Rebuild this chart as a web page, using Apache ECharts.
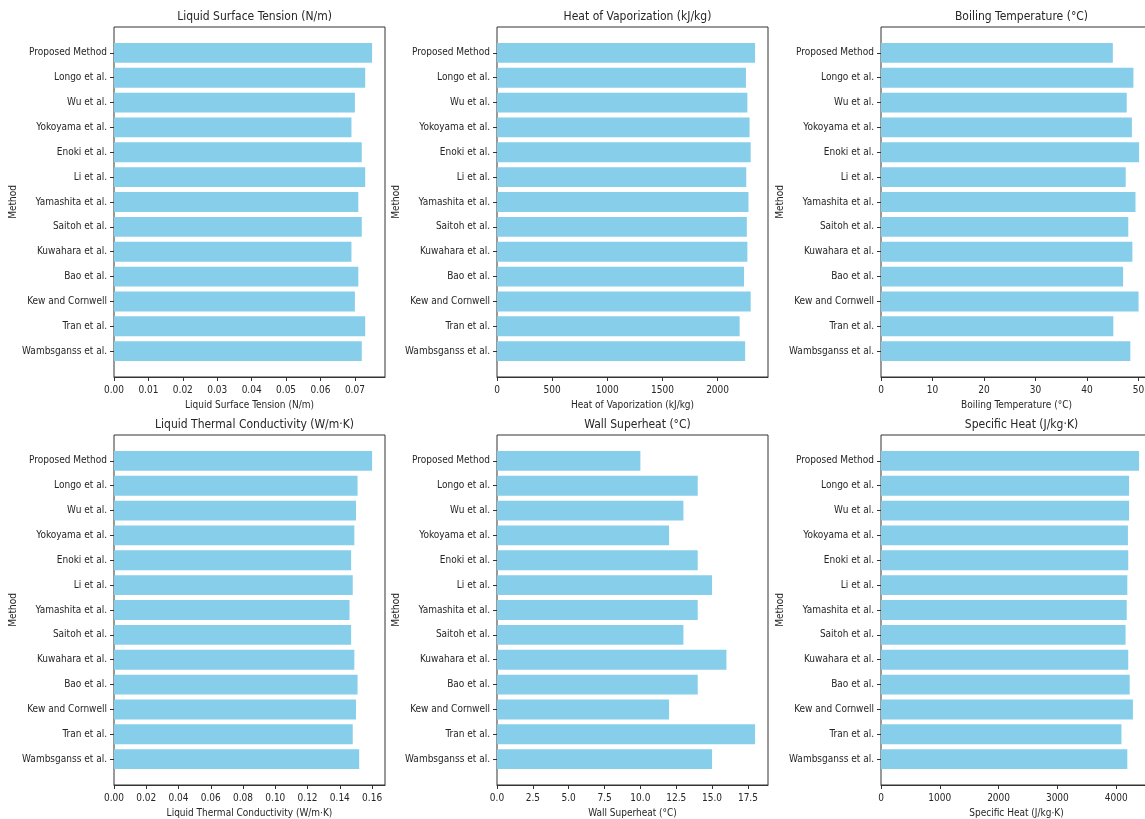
<!DOCTYPE html>
<html>
<head>
<meta charset="utf-8">
<title>Method comparison</title>
<script src="https://cdn.jsdelivr.net/npm/echarts@6/dist/echarts.min.js"></script>
<style>
  html, body { margin: 0; padding: 0; background: #fff; }
  #main { width: 1145px; height: 819px; }
</style>
</head>
<body>
<div id="main"></div>
<script>
// methods, top to bottom
const methods = ['Proposed Method', 'Longo et al.', 'Wu et al.', 'Yokoyama et al.', 'Enoki et al.',
  'Li et al.', 'Yamashita et al.', 'Saitoh et al.', 'Kuwahara et al.', 'Bao et al.',
  'Kew and Cornwell', 'Tran et al.', 'Wambsganss et al.'];

const surfaceTension = [0.075, 0.073, 0.070, 0.069, 0.072, 0.073, 0.071, 0.072, 0.069, 0.071, 0.070, 0.073, 0.072];
const heatVaporization = [2340, 2257, 2270, 2290, 2300, 2260, 2280, 2265, 2270, 2240, 2300, 2200, 2250];
const boilingTemp = [45.0, 49.0, 47.7, 48.7, 50.1, 47.5, 49.4, 48.0, 48.8, 47.0, 50.0, 45.1, 48.4];
const thermalConductivity = [0.160, 0.151, 0.150, 0.149, 0.147, 0.148, 0.146, 0.147, 0.149, 0.151, 0.150, 0.148, 0.152];
const wallSuperheat = [10, 14, 13, 12, 14, 15, 14, 13, 16, 14, 12, 18, 15];
const specificHeat = [4390, 4220, 4220, 4200, 4205, 4190, 4180, 4160, 4205, 4230, 4285, 4090, 4190];

const tensionTicks = [0, 0.01, 0.02, 0.03, 0.04, 0.05, 0.06, 0.07];
const vaporTicks = [0, 500, 1000, 1500, 2000];
const boilingTicks = [0, 10, 20, 30, 40, 50];
const conductivityTicks = [0, 0.02, 0.04, 0.06, 0.08, 0.10, 0.12, 0.14, 0.16];
const superheatTicks = [0, 2.5, 5, 7.5, 10, 12.5, 15, 17.5];
const specificHeatTicks = [0, 1000, 2000, 3000, 4000];

const panels = [
  { title: 'Liquid Surface Tension (N/m)', values: surfaceTension, ticks: tensionTicks, digits: 2 },
  { title: 'Heat of Vaporization (kJ/kg)', values: heatVaporization, ticks: vaporTicks, digits: 0 },
  { title: 'Boiling Temperature (°C)', values: boilingTemp, ticks: boilingTicks, digits: 0 },
  { title: 'Liquid Thermal Conductivity (W/m·K)', values: thermalConductivity, ticks: conductivityTicks, digits: 2 },
  { title: 'Wall Superheat (°C)', values: wallSuperheat, ticks: superheatTicks, digits: 1 },
  { title: 'Specific Heat (J/kg·K)', values: specificHeat, ticks: specificHeatTicks, digits: 0 }
];

const FONT = "'DejaVu Sans Condensed', 'DejaVu Sans', sans-serif";
const TXT = '#262626';
const colLeft = [114, 497, 881];
const rowTop = [27, 435];
const boxW = 271, boxH = 350;
// matplotlib barh: bars of 0.8, 5% margin -> 14.08 units over the box
const pad = boxH * 0.54 / 14.08;

const option = {
  animation: false,
  backgroundColor: '#fff',
  textStyle: { fontFamily: FONT },
  title: [], grid: [], xAxis: [], yAxis: [], series: []
};

panels.forEach((p, i) => {
  const left = colLeft[i % 3];
  const top = rowTop[Math.floor(i / 3)];
  const xMax = Math.max(...p.values) * 1.05;
  const gIn = i * 2, gBox = i * 2 + 1;

  option.title.push({
    text: p.title,
    left: left + boxW / 2,
    top: top - 21,
    textAlign: 'center',
    textStyle: { fontFamily: FONT, fontSize: 12, fontWeight: 'normal', color: TXT }
  });

  // inner grid: holds bars and category labels
  option.grid.push({ left: left, top: top + pad, width: boxW, height: boxH - 2 * pad,
    outerBoundsMode: 'none' });
  // box grid: frame and value axis
  option.grid.push({ left: left, top: top, width: boxW, height: boxH, show: true,
    borderColor: '#333', borderWidth: 1, backgroundColor: 'transparent',
    outerBoundsMode: 'none' });

  option.xAxis.push({
    type: 'value', gridIndex: gIn, min: 0, max: xMax, show: false
  });
  option.xAxis.push({
    type: 'value', gridIndex: gBox, min: 0, max: xMax,
    name: p.title, nameLocation: 'middle', nameGap: 23,
    nameTextStyle: { fontFamily: FONT, fontSize: 10, color: TXT },
    axisLine: { show: true, lineStyle: { color: '#333', width: 1 } },
    axisTick: { show: true, inside: false, length: 4, customValues: p.ticks, lineStyle: { color: '#333' } },
    axisLabel: { customValues: p.ticks, margin: 8, fontFamily: FONT, fontSize: 10, color: TXT,
      formatter: v => v.toFixed(p.digits) },
    splitLine: { show: false }
  });

  option.yAxis.push({
    type: 'category', gridIndex: gIn, data: methods, inverse: true,
    name: 'Method', nameLocation: 'middle', nameGap: 94, nameRotate: 90,
    nameTextStyle: { fontFamily: FONT, fontSize: 10, color: TXT },
    axisLine: { show: false },
    axisTick: { show: true, alignWithLabel: true, length: 4, lineStyle: { color: '#333' } },
    axisLabel: { margin: 7, fontFamily: FONT, fontSize: 10, color: TXT, interval: 0 },
    splitLine: { show: false }
  });
  option.yAxis.push({
    type: 'value', gridIndex: gBox, show: false, min: 0, max: 1
  });

  option.series.push({
    type: 'bar', xAxisIndex: gIn, yAxisIndex: gIn, data: p.values,
    barCategoryGap: '20%',
    itemStyle: { color: '#87CEEB' }
  });
});

const chart = echarts.init(document.getElementById('main'), null, { renderer: 'canvas' });
chart.setOption(option);
</script>
</body>
</html>
